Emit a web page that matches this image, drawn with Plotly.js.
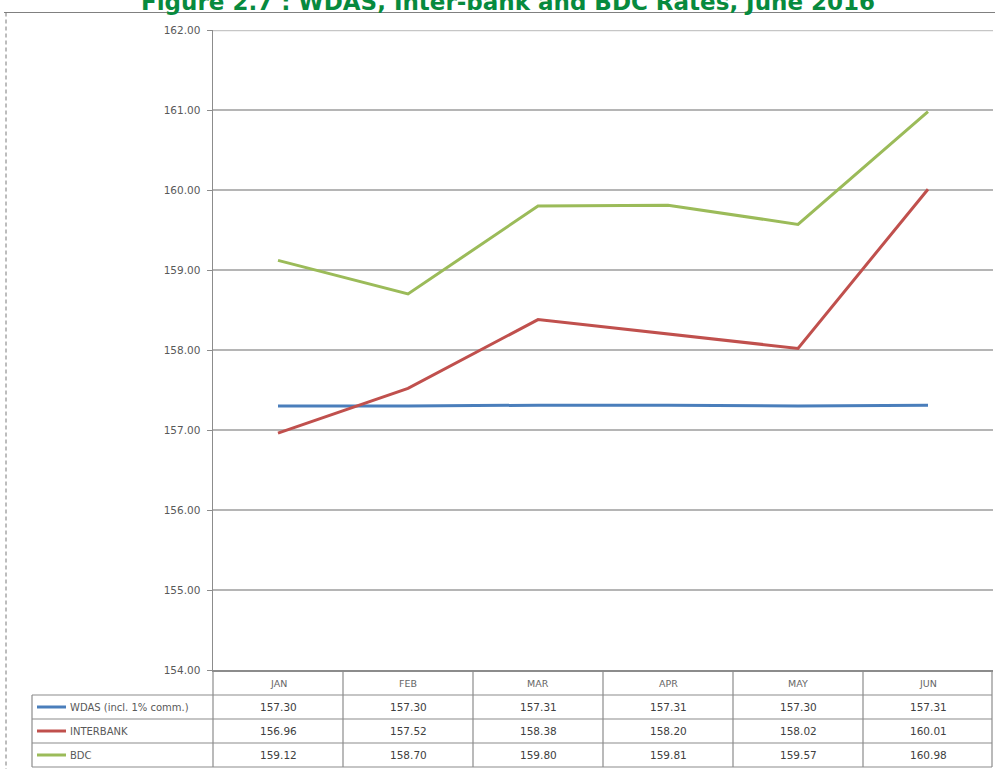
<!DOCTYPE html>
<html>
<head>
<meta charset="utf-8">
<script src="https://cdn.plot.ly/plotly-3.0.1.min.js"></script>
<style>
html,body{margin:0;padding:0;background:#fff;}
#chart{width:995px;height:769px;}
</style>
</head>
<body>
<div id="chart"></div>
<script>
// ---- data ----
const months = ["JAN", "FEB", "MAR", "APR", "MAY", "JUN"];
const wdas = [157.30, 157.30, 157.31, 157.31, 157.30, 157.31];
const interbank = [156.96, 157.52, 158.38, 158.20, 158.02, 160.01];
const bdc = [159.12, 158.70, 159.80, 159.81, 159.57, 160.98];
const seriesNames = ["WDAS (incl. 1% comm.)", "INTERBANK", "BDC"];
const seriesColors = ["#4a7ebb", "#c0504d", "#9bbb59"];
const titleText = "Figure 2.7 : WDAS, Inter-bank and BDC Rates, June 2016";

// ---- geometry helpers (pixels -> paper) ----
const W = 995, H = 769;
const mL = 213, mR = 2, mT = 30, mB = 99;
const pw = W - mL - mR, ph = H - mT - mB;
const px = p => (p - mL) / pw;
const py = p => (H - mB - p) / ph;

const series = [wdas, interbank, bdc];
const traces = series.map((vals, i) => ({
  type: "scatter",
  mode: "lines",
  x: months,
  y: vals,
  name: seriesNames[i],
  line: {color: seriesColors[i], width: 3},
  showlegend: false,
  hoverinfo: "x+y"
}));

const gridCol = "#b5b5b5";
const tblCol = "#8c8c8c";
const txtFont = "DejaVu Sans, Verdana, sans-serif";
const shapes = [];
const annotations = [];

// lighter top gridline (162.00)
shapes.push({type: "line", xref: "paper", yref: "y", x0: 0, x1: 1, y0: 162, y1: 162,
  line: {color: "#c6c6c6", width: 2.5}});

// table horizontal lines
[695, 719, 743, 767].forEach(yp => {
  shapes.push({type: "line", xref: "paper", yref: "paper",
    x0: px(32), x1: px(992), y0: py(yp), y1: py(yp),
    line: {color: tblCol, width: 1.2}});
});
// legend column left border
shapes.push({type: "line", xref: "paper", yref: "paper",
  x0: px(32), x1: px(32), y0: py(695), y1: py(767),
  line: {color: tblCol, width: 1.2}});
// column separators
for (let k = 0; k <= months.length; k++) {
  const xv = k === months.length ? px(992) : k / months.length;
  shapes.push({type: "line", xref: "paper", yref: "paper",
    x0: xv, x1: xv, y0: py(670), y1: py(767),
    line: {color: tblCol, width: 1.2}});
}
// outer frame: top line and dashed left line
shapes.push({type: "line", xref: "paper", yref: "paper",
  x0: px(4), x1: px(995), y0: py(12.5), y1: py(12.5),
  line: {color: "#808080", width: 1.2}});
shapes.push({type: "line", xref: "paper", yref: "paper",
  x0: px(6), x1: px(6), y0: py(12.5), y1: py(769),
  line: {color: "#7a7a7a", width: 1, dash: "4px,3px"}});

// header labels
months.forEach(m => {
  annotations.push({xref: "x", yref: "paper", x: m, y: py(683),
    text: m, showarrow: false, xanchor: "center", yanchor: "middle",
    font: {family: txtFont, size: 9.5, color: "#666666"}});
});
// rows
const rowY = [707, 731, 755];
series.forEach((vals, i) => {
  // legend key line
  shapes.push({type: "line", xref: "paper", yref: "paper",
    x0: px(37), x1: px(66), y0: py(rowY[i]), y1: py(rowY[i]),
    line: {color: seriesColors[i], width: 3}});
  annotations.push({xref: "paper", yref: "paper", x: px(68), y: py(rowY[i]),
    text: seriesNames[i], showarrow: false, xanchor: "left", yanchor: "middle",
    font: {family: txtFont, size: 10, color: "#595959"}});
  vals.forEach((v, j) => {
    annotations.push({xref: "x", yref: "paper", x: months[j], y: py(rowY[i]),
      text: v.toFixed(2), showarrow: false, xanchor: "center", yanchor: "middle",
      font: {family: txtFont, size: 10.5, color: "#404040"}});
  });
});
// title (partially cut off at top, as in the reference)
annotations.push({xref: "paper", yref: "paper", x: px(508), y: py(1.5),
  text: "<b>" + titleText + "</b>", showarrow: false, xanchor: "center", yanchor: "middle",
  font: {family: "DejaVu Sans, sans-serif", size: 23, color: "#078a3e"}});

const layout = {
  width: W, height: H,
  margin: {l: mL, r: mR, t: mT, b: mB, pad: 0},
  paper_bgcolor: "#ffffff",
  plot_bgcolor: "#ffffff",
  showlegend: false,
  xaxis: {
    type: "category",
    range: [-0.5, months.length - 0.5],
    showticklabels: false,
    showgrid: false,
    zeroline: false,
    showline: true,
    linecolor: tblCol,
    linewidth: 1.5,
    ticks: ""
  },
  yaxis: {
    range: [154, 162],
    dtick: 1,
    tick0: 154,
    tickformat: ".2f",
    showgrid: true,
    gridcolor: gridCol,
    gridwidth: 1.6,
    zeroline: false,
    showline: true,
    linecolor: tblCol,
    linewidth: 1.5,
    ticks: "outside",
    ticklen: 5,
    tickcolor: tblCol,
    ticklabelstandoff: 4,
    tickfont: {family: txtFont, size: 10.5, color: "#595959"}
  },
  shapes: shapes,
  annotations: annotations
};

Plotly.newPlot("chart", traces, layout, {displayModeBar: false, staticPlot: true});
</script>
</body>
</html>
